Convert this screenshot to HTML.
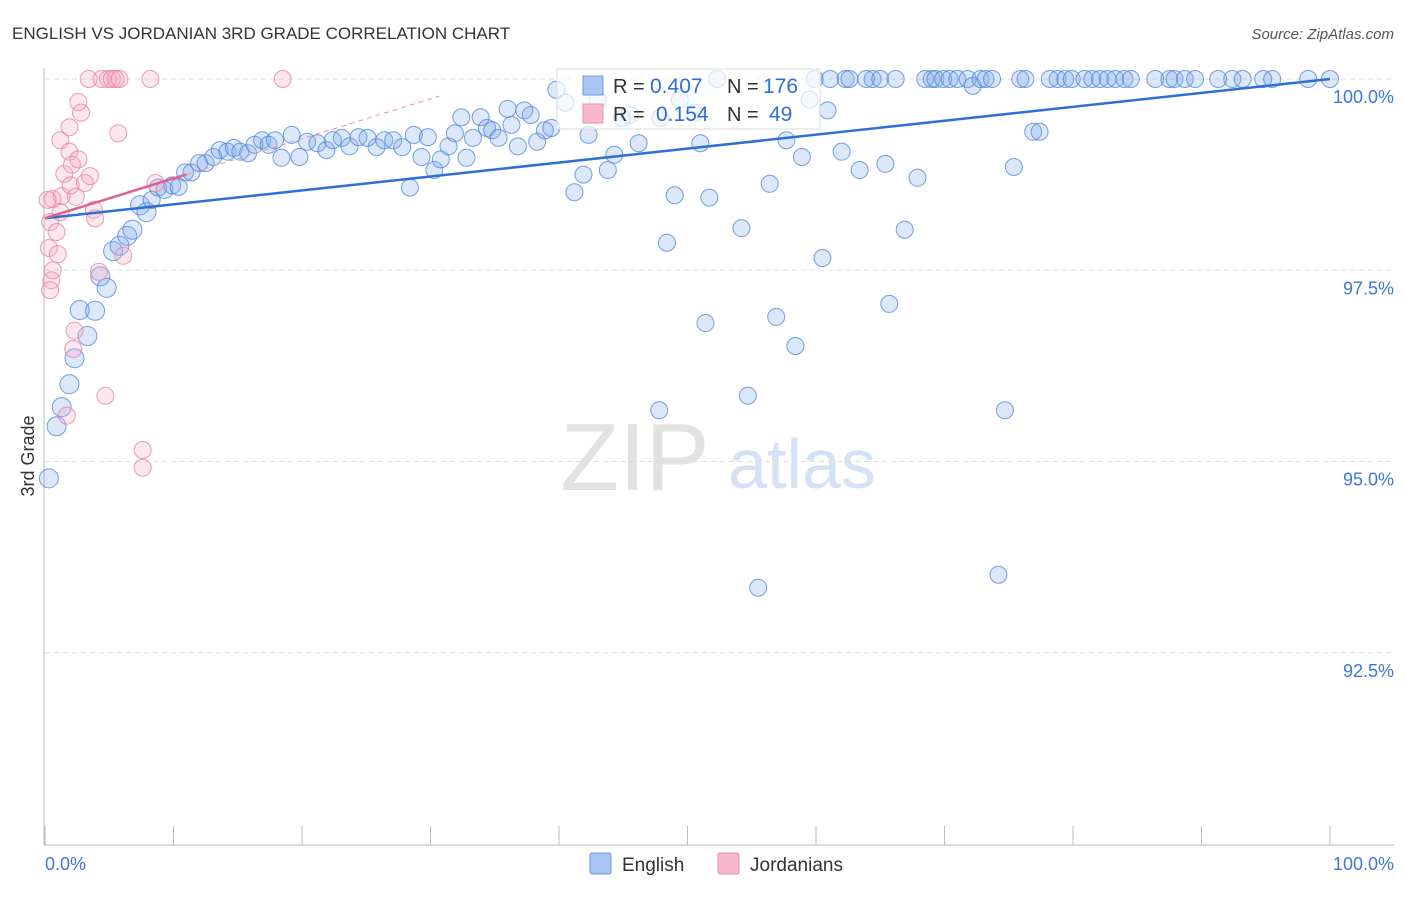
<!DOCTYPE html>
<html><head><meta charset="utf-8"><style>
body{margin:0;background:#fff;font-family:"Liberation Sans",sans-serif}
svg text{font-family:"Liberation Sans",sans-serif}
</style></head><body>
<svg id="c" width="1406" height="892" xmlns="http://www.w3.org/2000/svg">
<text x="12" y="39" font-size="17" fill="#333">ENGLISH VS JORDANIAN 3RD GRADE CORRELATION CHART</text>
<text x="1394" y="39" font-size="15" fill="#555" font-style="italic" text-anchor="end">Source: ZipAtlas.com</text>
<text x="34" y="456" font-size="18" fill="#333" transform="rotate(-90 34 456)" text-anchor="middle">3rd Grade</text>
<g><text x="635" y="490" font-size="96" fill="#e2e2e2" font-family="Liberation Serif" text-anchor="middle">ZIP</text><text x="802" y="488" font-size="70" fill="#d5e1f4" text-anchor="middle">atlas</text></g>
<g id="grid"></g><g id="pts"></g><g id="lines"></g>
<g>
<rect x="557" y="69" width="263" height="60" fill="#fff" fill-opacity="0.7" stroke="#ddd"/>
<rect x="583" y="76" width="20" height="19" fill="#a9c6f2" stroke="#6a9ae0"/>
<rect x="583" y="104" width="20" height="19" fill="#f7b8cb" stroke="#e891ad"/>
<text x="613" y="93" font-size="20" fill="#333">R =</text><text x="650" y="93" font-size="21" fill="#2e6fd6">0.407</text>
<text x="727" y="93" font-size="20" fill="#333">N =</text><text x="763" y="93" font-size="21" fill="#2e6fd6">176</text>
<text x="613" y="121" font-size="20" fill="#333">R =</text><text x="656" y="121" font-size="21" fill="#2e6fd6">0.154</text>
<text x="727" y="121" font-size="20" fill="#333">N =</text><text x="769" y="121" font-size="21" fill="#2e6fd6">49</text>
</g>
<g>
<rect x="590" y="853" width="21" height="21" fill="#a9c6f2" stroke="#6a9ae0" rx="2"/>
<text x="622" y="871" font-size="19" fill="#333">English</text>
<rect x="718" y="853" width="21" height="21" fill="#f7b8cb" stroke="#e891ad" rx="2"/>
<text x="750" y="871" font-size="19" fill="#333">Jordanians</text>
</g>
</svg>
<script>
const yTicks=[100,97.5,95,92.5];
const yTickLabels=["100.0%","97.5%","95.0%","92.5%"];
const xTicks=[0,10,20,30,40,50,60,70,80,90,100];
const englishX=[0.3,0.9,1.3,1.9,2.3,2.7,3.3,3.9,4.3,4.8,5.3,5.8,6.4,6.8,7.4,7.9,8.3,8.8,9.3,9.9,10.4,10.9,11.4,12.0,12.5,13.1,13.6,14.2,14.7,15.2,15.8,16.3,16.9,17.4,17.9,18.4,19.2,19.8,20.4,21.2,21.9,22.4,23.1,23.7,24.4,25.1,25.8,26.4,27.1,27.8,28.4,28.7,29.3,29.8,30.3,30.8,31.4,31.9,32.4,32.8,33.3,33.9,34.4,34.8,35.3,36.0,36.3,36.8,37.3,37.8,38.3,38.9,39.4,39.8,40.5,41.2,41.9,42.3,43.0,43.8,44.3,44.9,45.5,46.2,47.9,48.4,49.0,49.4,50.6,51.0,51.4,51.7,52.3,54.2,54.7,55.5,56.4,56.9,57.7,58.4,58.9,59.5,59.9,60.5,60.9,61.1,62.0,62.3,62.6,63.4,63.9,64.4,65.0,65.4,65.7,66.2,66.9,67.9,68.5,69.0,69.3,69.9,70.4,71.0,71.8,72.2,72.8,73.2,73.7,74.2,74.7,75.4,75.9,76.3,76.9,77.4,78.2,78.8,79.4,79.9,80.9,81.5,82.1,82.7,83.3,84.0,84.5,86.4,87.5,87.9,88.7,89.5,91.3,92.4,93.2,94.8,95.5,98.3,100,47.8];
const englishY=[94.78,95.46,95.71,96.01,96.35,96.98,96.64,96.97,97.42,97.27,97.75,97.82,97.95,98.03,98.35,98.26,98.42,98.58,98.55,98.61,98.59,98.78,98.78,98.90,98.90,98.98,99.07,99.05,99.10,99.05,99.03,99.14,99.20,99.14,99.20,98.97,99.27,98.98,99.18,99.16,99.07,99.20,99.23,99.12,99.24,99.23,99.11,99.20,99.20,99.11,98.58,99.27,98.98,99.24,98.81,98.95,99.12,99.29,99.50,98.97,99.23,99.50,99.36,99.33,99.23,99.61,99.40,99.12,99.59,99.53,99.18,99.33,99.36,99.86,99.69,98.52,98.75,99.27,99.73,98.81,99.01,99.49,99.53,99.16,99.49,97.86,98.48,99.73,99.56,99.16,96.81,98.45,100,98.05,95.86,93.35,98.63,96.89,99.20,96.51,98.98,99.73,100,97.66,99.59,100,99.05,100,100,98.81,100,100,100,98.89,97.06,100,98.03,98.71,100,100,100,100,100,100,100,99.91,100,100,100,93.52,95.67,98.85,100,100,99.31,99.31,100,100,100,100,100,100,100,100,100,100,100,100,100,100,100,100,100,100,100,100,100,100,100,95.67];
const jordanX=[0.3,0.4,0.5,0.6,0.6,0.9,1.0,1.2,1.2,1.3,1.5,1.7,1.9,1.9,2.0,2.1,2.2,2.3,2.4,2.6,2.6,2.8,3.1,3.4,3.5,3.8,3.9,4.2,4.4,4.7,4.9,5.2,5.5,5.7,6.1,7.6,7.6,8.2,8.6,18.5,5.8,0.4,0.2];
const jordanY=[97.79,98.13,97.37,97.5,98.43,98.0,97.71,99.2,98.26,98.47,98.76,95.6,99.37,99.05,98.61,98.88,96.47,96.71,98.46,98.95,99.7,99.56,98.64,100,98.73,98.29,98.18,97.48,100,95.86,100,100,100,99.29,97.69,95.15,94.92,100,98.64,100,100,97.24,98.42];
const englishTrend=[98.18,100];
const jordanTrend=[98.18,0.052];
const X=v=>45+v*12.85, Y=v=>79+(100-v)*76.5;
const NS="http://www.w3.org/2000/svg";
function mk(t,a,p){const e=document.createElementNS(NS,t);for(const k in a)e.setAttribute(k,a[k]);p.appendChild(e);return e;}
const grid=document.getElementById('grid'),pts=document.getElementById('pts'),lines=document.getElementById('lines');
yTicks.forEach((t,i)=>{
 const l=mk('line',{x1:45,x2:1394,y1:Y(t),y2:Y(t),stroke:'#ddd','stroke-dasharray':'5,4'},grid);
 
 
 const tx=mk('text',{x:1394,y:Y(t)+24,'font-size':18,fill:'#3b78d8','text-anchor':'end'},grid);
 tx.textContent=yTickLabels[i];
 
 
});
const ax=mk('line',{x1:44,x2:44,y1:68,y2:845,stroke:'#bbb'},grid);


const bx=mk('line',{x1:44,x2:1394,y1:845,y2:845,stroke:'#bbb'},grid);


xTicks.forEach(t=>{
 const l=mk('line',{x1:X(t),x2:X(t),y1:826,y2:845,stroke:'#bbb'},grid);
 
 
});
[[45,'start','0.0%'],[1394,'end','100.0%']].forEach(a=>{
 const t=mk('text',{x:a[0],y:870,'font-size':18,fill:'#3b78d8','text-anchor':a[1]},grid);t.textContent=a[2];
 
 
});
englishX.forEach((x,i)=>{
 const c=mk('circle',{cx:X(x),cy:Y(englishY[i]),r:x<8?9.5:8.5,fill:'rgba(130,170,235,0.28)',stroke:'rgba(70,130,220,0.75)','stroke-width':1},pts);
 
 
});
jordanX.forEach((x,i)=>{
 const c=mk('circle',{cx:X(x),cy:Y(jordanY[i]),r:8.5,fill:'rgba(245,170,195,0.28)',stroke:'rgba(230,130,165,0.8)','stroke-width':1},pts);
 
 
});
const bl=mk('line',{x1:X(0),y1:Y(englishTrend[0]),x2:X(100),y2:Y(englishTrend[1]),stroke:'#2e6fd6','stroke-width':2.5},lines);


const pl=mk('line',{x1:X(0),y1:Y(jordanTrend[0]),x2:X(11),y2:Y(jordanTrend[0]+jordanTrend[1]*11),stroke:'#e0608a','stroke-width':2.5},lines);


const pd=mk('line',{x1:X(11),y1:Y(jordanTrend[0]+jordanTrend[1]*11),x2:X(30.7),y2:Y(jordanTrend[0]+jordanTrend[1]*30.7),stroke:'#e891ad','stroke-width':1,'stroke-dasharray':'5,4'},lines);


</script>
</body></html>
